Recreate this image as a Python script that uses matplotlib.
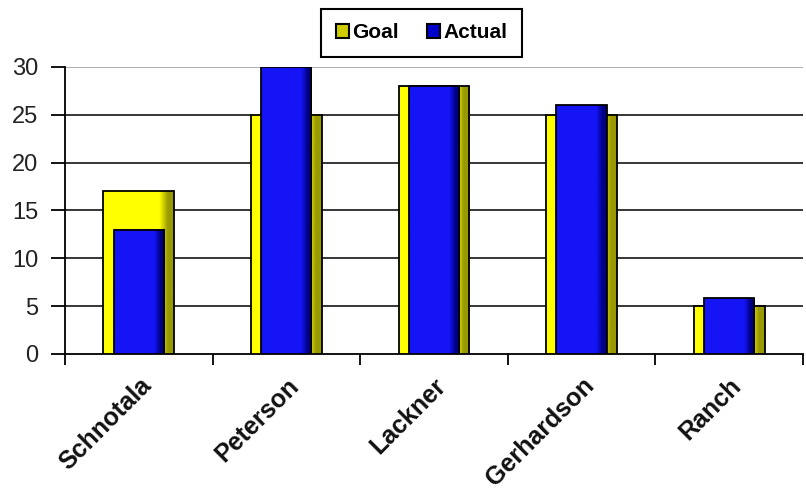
import numpy as np
import matplotlib
matplotlib.use('Agg')
import matplotlib.pyplot as plt
from matplotlib.patches import Rectangle

plt.rcParams['font.family'] = ['Liberation Sans', 'DejaVu Sans']

# data
names = ['Schnotala', 'Peterson', 'Lackner', 'Gerhardson', 'Ranch']
goal = [17, 25, 28, 25, 5]
actual = [13, 30, 28, 26, 5.8]
yticks = [0, 5, 10, 15, 20, 25, 30]


def shaded_bar(ax, xc, h, w, light, dark, z):
    # horizontal gradient to mimic the bevelled Excel bar
    t = np.linspace(0, 1, 80)
    mix = np.clip((t - 0.8) / 0.12, 0, 1)
    light = np.array(matplotlib.colors.to_rgb(light))
    dark = np.array(matplotlib.colors.to_rgb(dark))
    img = (1 - mix)[:, None] * light + mix[:, None] * dark
    ax.imshow(img[None, :, :], extent=(xc - w / 2, xc + w / 2, 0, h),
              aspect='auto', zorder=z, interpolation='bilinear')
    ax.add_patch(Rectangle((xc - w / 2, 0), w, h, fill=False,
                           edgecolor='black', linewidth=1.3, zorder=z + 0.1))


fig = plt.figure(figsize=(8.06, 4.90), dpi=100)
ax = fig.add_axes([0.0806, 0.2776, 0.9156, 0.5857])

x = np.arange(len(names))
for i in x:
    shaded_bar(ax, i, goal[i], 0.48, '#ffff00', '#999900', 3)
    shaded_bar(ax, i, actual[i], 0.34, '#1414f5', '#000080', 4)

ax.set_xlim(-0.5, len(names) - 0.5)
ax.set_ylim(0, 30)
ax.set_yticks(yticks)
ax.set_yticklabels([str(v) for v in yticks], fontsize=17, color='#222222')
for v in yticks[1:]:
    ax.axhline(v, color='#999999' if v == 30 else 'black', linewidth=1.1, zorder=1)

ax.set_xticks(np.arange(-0.5, len(names), 1.0))
ax.set_xticklabels([])
ax.set_xticks(x, minor=True)
ax.set_xticklabels(names, minor=True, rotation=45, ha='right', rotation_mode='anchor',
                   fontsize=18, fontweight='bold', color='#111111')
ax.tick_params(axis='x', which='minor', length=0, pad=14)
ax.tick_params(axis='x', which='major', length=8, width=1.3, direction='out')
ax.tick_params(axis='y', length=10, width=1.3, direction='out', pad=9)

for s in ['top', 'right']:
    ax.spines[s].set_visible(False)
ax.spines['left'].set_linewidth(1.3)
ax.spines['bottom'].set_linewidth(1.3)

handles = [Rectangle((0, 0), 1, 1, facecolor='#cccc00', edgecolor='black', linewidth=1.5),
           Rectangle((0, 0), 1, 1, facecolor='#0000cc', edgecolor='black', linewidth=1.5)]
leg = fig.legend(handles, ['Goal', 'Actual'], loc='center', bbox_to_anchor=(0.523, 0.933),
                 ncol=2, fancybox=False, edgecolor='black', framealpha=1,
                 prop={'size': 15, 'weight': 'bold'}, handlelength=0.6, handleheight=0.6,
                 handletextpad=0.15, columnspacing=1.4, borderpad=0.7, borderaxespad=0)
leg.get_frame().set_linewidth(1.5)

fig.savefig('out.png', dpi=100)
